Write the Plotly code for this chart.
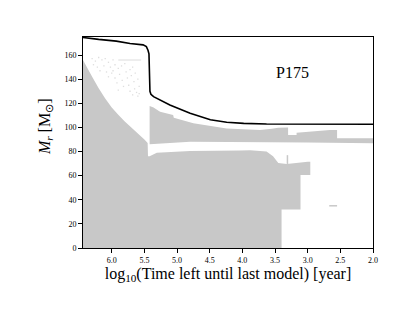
import plotly.graph_objects as go

# ---- data ----
# Lower convective region (core + later core), top boundary, ending at the base
core_x = [6.50, 6.44, 6.38, 6.30, 6.20, 6.10, 6.00, 5.90, 5.80, 5.70, 5.60, 5.50, 5.45, 5.445, 5.42, 5.31, 4.80,
          4.04, 3.88, 3.63, 3.53, 3.45, 3.32, 3.00, 2.96, 2.96, 3.11, 3.11, 3.40, 3.40, 6.50]
core_m = [160, 156, 150, 142, 132.5, 124, 116.5, 110.5, 105, 100, 95, 90, 87, 76, 76, 79, 80.5,
          80.8, 81, 80, 76, 70.5, 69.7, 71.6, 71.6, 60.5, 60.5, 32, 32, 0, 0]

# Upper convective band (top boundary then bottom boundary back)
band_x = [5.42, 5.36, 5.26, 5.06, 5.05, 4.75, 4.24, 3.73, 3.55, 3.45, 3.30, 3.30, 3.17, 3.17, 2.66, 2.55, 2.55, 1.95,
          1.95, 3.00, 4.80, 5.42]
band_m = [117.7, 116.5, 113, 110.3, 108, 103.4, 99.2, 97.8, 99, 99.8, 100, 93.7, 93.7, 95.6, 97.8, 97.8, 91, 91,
          86.8, 87.5, 88.2, 86]

# Small features
spike_x = [3.31, 3.31]
spike_m = [69.7, 77]
dash_x = [2.67, 2.55]
dash_m = [35, 35]
streak_x = [5.90, 5.55]
streak_m = [155.9, 155.9]

# Speckles in the upper-left region
speck_x = [6.30, 6.25, 6.20, 6.15, 6.10, 6.05, 6.28, 6.22, 6.12, 6.02, 5.98, 5.95, 6.18, 6.08, 5.98, 5.90, 5.85,
           5.80, 6.05, 5.95, 5.88, 5.78, 5.72, 5.68, 5.92, 5.84, 5.76, 5.70, 5.64, 5.82, 5.74, 5.66, 5.60, 5.72,
           5.65, 5.58, 5.68, 5.60, 5.62, 5.58, 6.00, 5.90]
speck_m = [157, 155, 158, 156, 157, 154, 152, 150, 151, 150, 156, 152, 147, 146, 147, 149, 151,
           153, 142, 141, 144, 146, 148, 150, 137, 139, 141, 143, 145, 134, 135, 138, 140, 130,
           132, 134, 127, 126, 129, 128, 145, 131]

# Total mass line
mass_x = [6.50, 6.44, 6.2, 5.93, 5.72, 5.52, 5.47, 5.445, 5.43, 5.415, 5.40, 5.36, 5.26, 5.11, 4.80, 4.65, 4.49,
          4.24, 3.98, 3.63, 3.22, 1.95]
mass_m = [175, 174.5, 173, 171.6, 169.6, 168.5, 167, 164, 161, 130, 127.5, 125.5, 122.5, 118.6, 111.7, 109, 106.3,
          104.3, 103.4, 102.9, 102.7, 102.6]

y_ticks = [0, 20, 40, 60, 80, 100, 120, 140, 160]
x_ticks = [6.0, 5.5, 5.0, 4.5, 4.0, 3.5, 3.0, 2.5, 2.0]
x_tick_labels = ["6.0", "5.5", "5.0", "4.5", "4.0", "3.5", "3.0", "2.5", "2.0"]

GRAY = "rgb(200,200,200)"
FONT = "Liberation Serif"

fig = go.Figure()
fig.add_trace(go.Scatter(x=core_x, y=core_m, fill="toself", fillcolor=GRAY, mode="none", hoverinfo="skip"))
fig.add_trace(go.Scatter(x=band_x, y=band_m, fill="toself", fillcolor=GRAY, mode="none", hoverinfo="skip"))
for xs, ys in [(spike_x, spike_m), (dash_x, dash_m)]:
    fig.add_trace(go.Scatter(x=xs, y=ys, mode="lines", line=dict(color=GRAY, width=1.5), hoverinfo="skip"))
fig.add_trace(go.Scatter(x=streak_x, y=streak_m, mode="lines", line=dict(color="rgb(220,220,220)", width=1),
                         hoverinfo="skip"))
fig.add_trace(go.Scatter(x=speck_x, y=speck_m, mode="markers",
                         marker=dict(symbol="square", size=1.3, color="rgb(222,222,222)"), hoverinfo="skip"))
fig.add_trace(go.Scatter(x=mass_x, y=mass_m, mode="lines", line=dict(color="black", width=1.6), hoverinfo="skip"))

fig.add_annotation(x=3.23, y=145.5, text="P175", showarrow=False,
                   font=dict(family=FONT, size=16, color="black"))

# y-axis title placed as in the reference (centred near M=100)
fig.add_annotation(xref="paper", yref="paper", x=-0.131, y=0.573, text="<i>M<sub>r</sub></i> [M<sub>⊙</sub>]",
                   textangle=-90, showarrow=False, xanchor="center", yanchor="middle",
                   font=dict(family=FONT, size=16, color="black"))

fig.update_layout(
    width=415, height=311,
    margin=dict(l=75, r=50, t=29, b=71),
    paper_bgcolor="white", plot_bgcolor="white",
    showlegend=False,
    font=dict(family=FONT, color="black"),
)
fig.update_xaxes(range=[6.44, 2.0], tickvals=x_ticks, ticktext=x_tick_labels,
                 ticks="outside", ticklen=4, tickcolor="black", tickwidth=1,
                 showline=True, linecolor="black", linewidth=1, mirror=True,
                 showgrid=False, zeroline=False, tickfont=dict(size=8, family=FONT, color="black"),
                 title=dict(text="log<sub>10</sub>(Time left until last model) [year]",
                            font=dict(size=16, family=FONT, color="black"), standoff=2))
fig.update_yaxes(range=[0, 175], tickvals=y_ticks,
                 ticks="outside", ticklen=4, tickcolor="black", tickwidth=1,
                 showline=True, linecolor="black", linewidth=1, mirror=True,
                 showgrid=False, zeroline=False, tickfont=dict(size=8, family=FONT, color="black"))

fig.write_html("out.html")
